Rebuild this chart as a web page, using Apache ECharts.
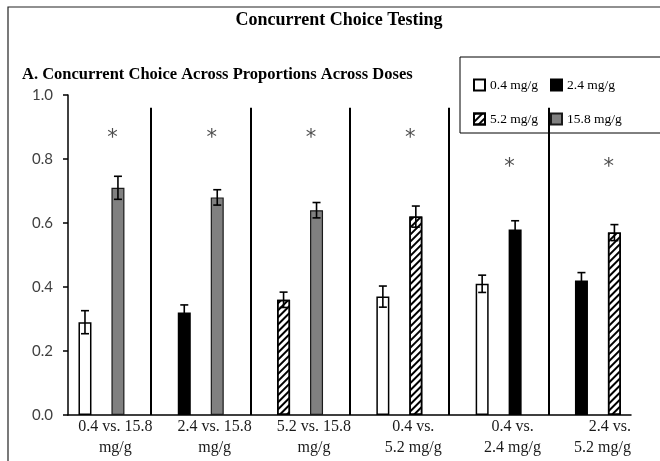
<!DOCTYPE html>
<html>
<head>
<meta charset="utf-8">
<script src="https://cdn.jsdelivr.net/npm/echarts@6/dist/echarts.min.js"></script>
<style>
  html, body { margin: 0; padding: 0; background: #fff; }
  #chart { width: 660px; height: 461px; }
</style>
</head>
<body>
<div id="chart"></div>
<script>
// Pairings tested in each concurrent-choice session
const categories = [
  '0.4 vs. 15.8\nmg/g',
  '2.4 vs. 15.8\nmg/g',
  '5.2 vs. 15.8\nmg/g',
  '0.4 vs.\n5.2 mg/g',
  '0.4 vs.\n2.4 mg/g',
  '2.4 vs.\n5.2 mg/g'
];
const doses = ['0.4 mg/g', '2.4 mg/g', '5.2 mg/g', '15.8 mg/g'];
// Lower and higher dose in each pairing
const lowDose  = ['0.4 mg/g', '2.4 mg/g', '5.2 mg/g', '0.4 mg/g', '0.4 mg/g', '2.4 mg/g'];
const highDose = ['15.8 mg/g', '15.8 mg/g', '15.8 mg/g', '5.2 mg/g', '2.4 mg/g', '5.2 mg/g'];
// Proportion of choices for each option (mean) and its SEM
const lowChoice  = [0.29, 0.32, 0.36, 0.37, 0.41, 0.42];
const highChoice = [0.71, 0.68, 0.64, 0.62, 0.58, 0.57];
const choiceSem  = [0.036, 0.024, 0.024, 0.033, 0.027, 0.025];
// Significance markers and the height at which each is printed
const significant = [true, true, true, true, true, true];
const starLevel   = [0.88, 0.88, 0.88, 0.88, 0.79, 0.79];
// Y axis ticks
const yMin = 0, yMax = 1.0, yStep = 0.2;

// ---- layout helpers (category units) ----
const X_MIN = -0.337, X_MAX = 5.333;
const PAIR_OFFSET = 0.166;   // half distance between the two bars of a pairing
const STAR_SHIFT = 0.11;
const LABEL_SHIFT = 0.14;
const DIVIDER_TOP = 0.96;

const doseStyle = {
  '0.4 mg/g':  { color: '#ffffff', borderColor: '#000', borderWidth: 1.5 },
  '2.4 mg/g':  { color: '#000000', borderColor: '#000', borderWidth: 1.5 },
  '5.2 mg/g':  { color: '#ffffff', borderColor: '#000', borderWidth: 1.5,
                 decal: { symbol: 'rect', symbolSize: 1, dashArrayX: [1, 0], dashArrayY: [2, 3],
                          rotation: -Math.PI / 4, color: '#000' } },
  '15.8 mg/g': { color: '#808080', borderColor: '#1a1a1a', borderWidth: 1.2 }
};

const barSeries = doses.map(function (dose) {
  const data = [];
  categories.forEach(function (c, i) {
    if (lowDose[i] === dose) data.push([i - PAIR_OFFSET, lowChoice[i]]);
    if (highDose[i] === dose) data.push([i + PAIR_OFFSET, highChoice[i]]);
  });
  return {
    name: dose,
    type: 'bar',
    data: data,
    barWidth: 13,
    barGap: '-100%',
    itemStyle: doseStyle[dose],
    emphasis: { disabled: true },
    z: 2
  };
});

const errorData = [];
categories.forEach(function (c, i) {
  errorData.push([i - PAIR_OFFSET, lowChoice[i], choiceSem[i]]);
  errorData.push([i + PAIR_OFFSET, highChoice[i], choiceSem[i]]);
});

const errorSeries = {
  name: 'sem',
  type: 'custom',
  data: errorData,
  encode: { x: 0, y: 1 },
  z: 4,
  silent: true,
  clip: false,
  renderItem: function (params, api) {
    const x = api.value(0), v = api.value(1), e = api.value(2);
    const top = api.coord([x, v + e]);
    const bot = api.coord([x, v - e]);
    const half = 4;
    const st = { stroke: '#000', lineWidth: 1.6 };
    return {
      type: 'group',
      children: [
        { type: 'line', shape: { x1: top[0], y1: top[1], x2: bot[0], y2: bot[1] }, style: st },
        { type: 'line', shape: { x1: top[0] - half, y1: top[1], x2: top[0] + half, y2: top[1] }, style: st },
        { type: 'line', shape: { x1: bot[0] - half, y1: bot[1], x2: bot[0] + half, y2: bot[1] }, style: st }
      ]
    };
  }
};

// Separators between the pairings
const dividerLines = [];
for (let i = 0; i < categories.length - 1; i++) {
  dividerLines.push([{ coord: [i + 0.5, yMin] }, { coord: [i + 0.5, DIVIDER_TOP] }]);
}
const dividerSeries = {
  name: 'dividers',
  type: 'line',
  data: [],
  silent: true,
  z: 1,
  markLine: {
    silent: true,
    symbol: ['none', 'none'],
    label: { show: false },
    lineStyle: { color: '#000', width: 2, type: 'solid' },
    emphasis: { disabled: true },
    data: dividerLines
  }
};

const starData = [];
categories.forEach(function (c, i) {
  if (significant[i]) starData.push([i + STAR_SHIFT, starLevel[i]]);
});
const starSeries = {
  name: 'significance',
  type: 'scatter',
  data: starData,
  symbolSize: 0,
  silent: true,
  z: 5,
  label: {
    show: true,
    position: 'inside',
    formatter: '*',
    fontFamily: 'DejaVu Sans',
    fontSize: 21,
    color: '#222',
    offset: [0, 5]
  }
};

// Category label anchors; the last one is pinned to the end of the axis
const lastIdx = categories.length - 1;
const labelAnchors = categories.map(function (c, i) {
  return i === lastIdx ? X_MAX : i + LABEL_SHIFT;
});

const chart = echarts.init(document.getElementById('chart'), null, { renderer: 'canvas' });
chart.setOption({
  animation: false,
  backgroundColor: '#fff',
  title: [
    {
      text: 'Concurrent Choice Testing',
      left: 334, top: 6, textAlign: 'center',
      textStyle: { fontFamily: 'Liberation Serif', fontWeight: 'bold', fontSize: 18, color: '#000' }
    },
    {
      text: 'A. Concurrent Choice Across Proportions Across Doses',
      left: 17, top: 61,
      textStyle: { fontFamily: 'Liberation Serif', fontWeight: 'bold', fontSize: 16.5, color: '#000' }
    }
  ],
  legend: {
    data: doses,
    left: 460, top: 57,
    width: 160,
    orient: 'horizontal',
    padding: [17, 120, 3, 13],
    itemGap: 12,
    itemWidth: 11, itemHeight: 11,
    icon: 'rect',
    borderColor: '#000', borderWidth: 1,
    selectedMode: false,
    textStyle: { fontFamily: 'Liberation Serif', fontSize: 13.5, color: '#000', lineHeight: 22 }
  },
  grid: { left: 68, right: 29, top: 95, bottom: 46 },
  xAxis: {
    type: 'value',
    min: X_MIN, max: X_MAX,
    axisLine: { show: true, onZero: false, lineStyle: { color: '#000', width: 1.5 } },
    axisTick: { show: false },
    splitLine: { show: false },
    axisLabel: {
      customValues: labelAnchors,
      formatter: function (v) {
        let best = 0;
        labelAnchors.forEach(function (a, i) {
          if (Math.abs(a - v) < Math.abs(labelAnchors[best] - v)) best = i;
        });
        return categories[best];
      },
      showMinLabel: true, showMaxLabel: true, hideOverlap: false,
      alignMaxLabel: 'right',
      fontFamily: 'Liberation Serif', fontSize: 16, color: '#1a1a1a',
      lineHeight: 21, margin: 1
    }
  },
  yAxis: {
    type: 'value',
    min: yMin, max: yMax, interval: yStep,
    axisLine: { show: true, onZero: false, lineStyle: { color: '#000', width: 1.5 } },
    axisTick: { show: true, length: 5, lineStyle: { color: '#000', width: 1.5 } },
    splitLine: { show: false },
    axisLabel: {
      formatter: function (v) { return v.toFixed(1); },
      fontFamily: 'Lato', fontSize: 15, color: '#404040', margin: 15
    }
  },
  graphic: [
    {
      type: 'rect', silent: true, z: -1,
      shape: { x: 8, y: 7, width: 700, height: 500 },
      style: { fill: 'none', stroke: '#222', lineWidth: 1.2 }
    }
  ],
  series: barSeries.concat([errorSeries, dividerSeries, starSeries])
});
</script>
</body>
</html>
